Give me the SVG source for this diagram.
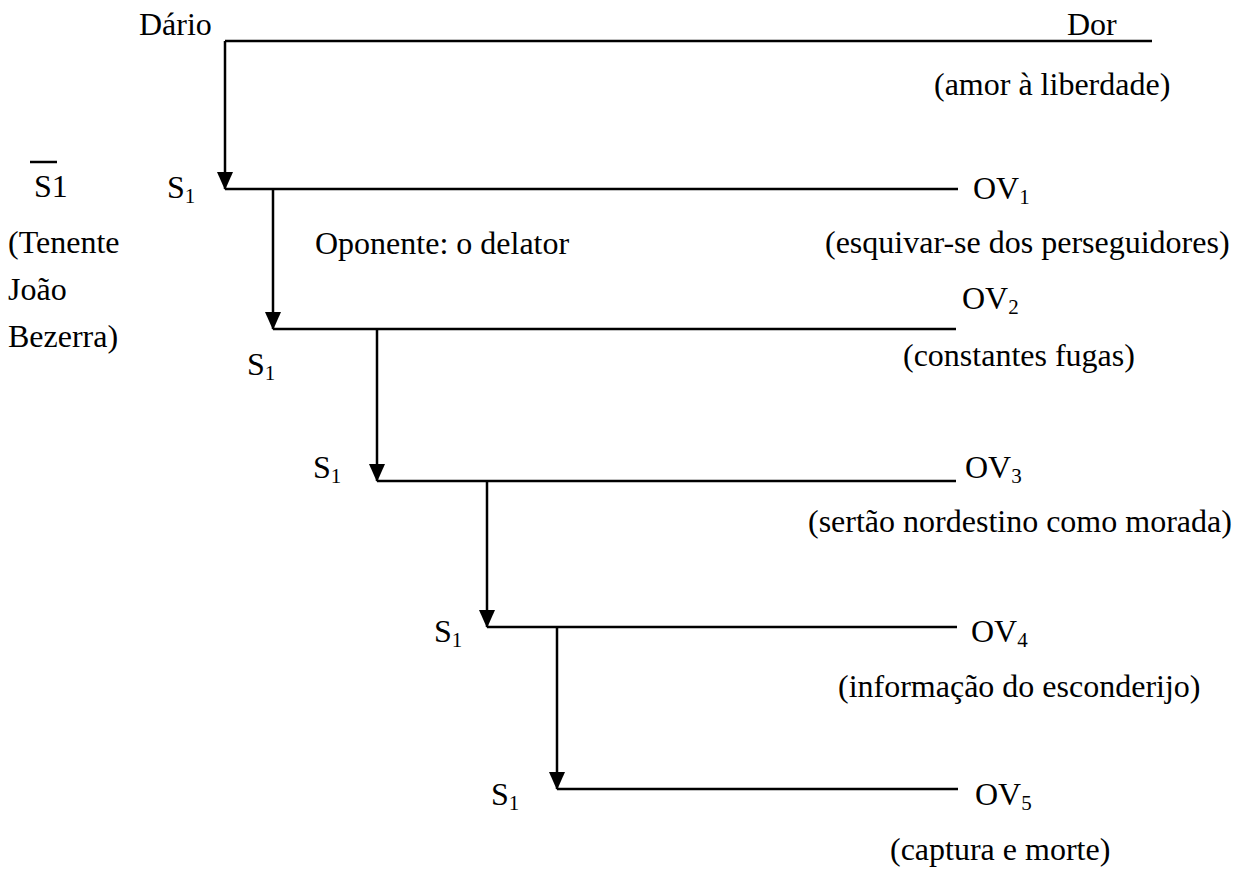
<svg xmlns="http://www.w3.org/2000/svg" width="1238" height="870" viewBox="0 0 1238 870">
  <style>
    text { font-family: "Liberation Serif", "Times New Roman", "DejaVu Serif", serif; font-size: 32px; fill: #000; }
    .sub { font-size: 21px; }
    .ln { stroke: #000; stroke-width: 2.5; fill: none; }
  </style>
  <defs>
    <!-- filled triangular head; tip sits on the end of the path -->
    <marker id="arrow" markerUnits="userSpaceOnUse" markerWidth="18" markerHeight="16" refX="17" refY="8" orient="auto" viewBox="0 0 18 16">
      <path d="M0,0 L18,8 L0,16 Z" fill="#000"/>
    </marker>
  </defs>
  <rect width="1238" height="870" fill="#fff"/>

  <!-- connectors: vertical arrows and horizontal bars -->
  <g id="connectors">
    <line class="ln" x1="225" y1="41" x2="1152" y2="41"/>
    <path class="ln" d="M225,41 V189" marker-end="url(#arrow)"/>
    <line class="ln" x1="225" y1="189" x2="958" y2="189"/>
    <path class="ln" d="M273,189 V329" marker-end="url(#arrow)"/>
    <line class="ln" x1="273" y1="329" x2="956" y2="329"/>
    <path class="ln" d="M377,329 V481" marker-end="url(#arrow)"/>
    <line class="ln" x1="377" y1="481" x2="956" y2="481"/>
    <path class="ln" d="M487,481 V627" marker-end="url(#arrow)"/>
    <line class="ln" x1="487" y1="627" x2="957" y2="627"/>
    <path class="ln" d="M557,627 V789" marker-end="url(#arrow)"/>
    <line class="ln" x1="557" y1="789" x2="958" y2="789"/>
  </g>

  <g id="dario"><text x="139" y="35">Dário</text></g>
  <g id="dor">
    <text x="1067" y="35">Dor</text>
    <text x="934" y="95">(amor à liberdade)</text>
  </g>

  <g id="anti-subject">
    <line x1="30" y1="162" x2="57" y2="162" stroke="#000" stroke-width="2.5"/>
    <text x="34" y="197">S1</text>
    <text x="8" y="253">(Tenente</text>
    <text x="8" y="300">João</text>
    <text x="8" y="347">Bezerra)</text>
  </g>

  <g id="s1-row1">
    <text x="167" y="198">S<tspan class="sub" dy="5">1</tspan></text>
  </g>
  <g id="opponent"><text x="315" y="254">Oponente: o delator</text></g>
  <g id="ov1">
    <text x="973" y="199">OV<tspan class="sub" dy="5">1</tspan></text>
    <text x="825" y="253">(esquivar-se dos perseguidores)</text>
  </g>

  <g id="s1-row2">
    <text x="247" y="375">S<tspan class="sub" dy="5">1</tspan></text>
  </g>
  <g id="ov2">
    <text x="962" y="309">OV<tspan class="sub" dy="5">2</tspan></text>
    <text x="903" y="366">(constantes fugas)</text>
  </g>

  <g id="s1-row3">
    <text x="313" y="478">S<tspan class="sub" dy="5">1</tspan></text>
  </g>
  <g id="ov3">
    <text x="965" y="478">OV<tspan class="sub" dy="5">3</tspan></text>
    <text x="808" y="532">(sertão nordestino como morada)</text>
  </g>

  <g id="s1-row4">
    <text x="434" y="642">S<tspan class="sub" dy="5">1</tspan></text>
  </g>
  <g id="ov4">
    <text x="971" y="642">OV<tspan class="sub" dy="5">4</tspan></text>
    <text x="838" y="697">(informação do esconderijo)</text>
  </g>

  <g id="s1-row5">
    <text x="491" y="805">S<tspan class="sub" dy="5">1</tspan></text>
  </g>
  <g id="ov5">
    <text x="975" y="805">OV<tspan class="sub" dy="5">5</tspan></text>
    <text x="890" y="860">(captura e morte)</text>
  </g>
</svg>
